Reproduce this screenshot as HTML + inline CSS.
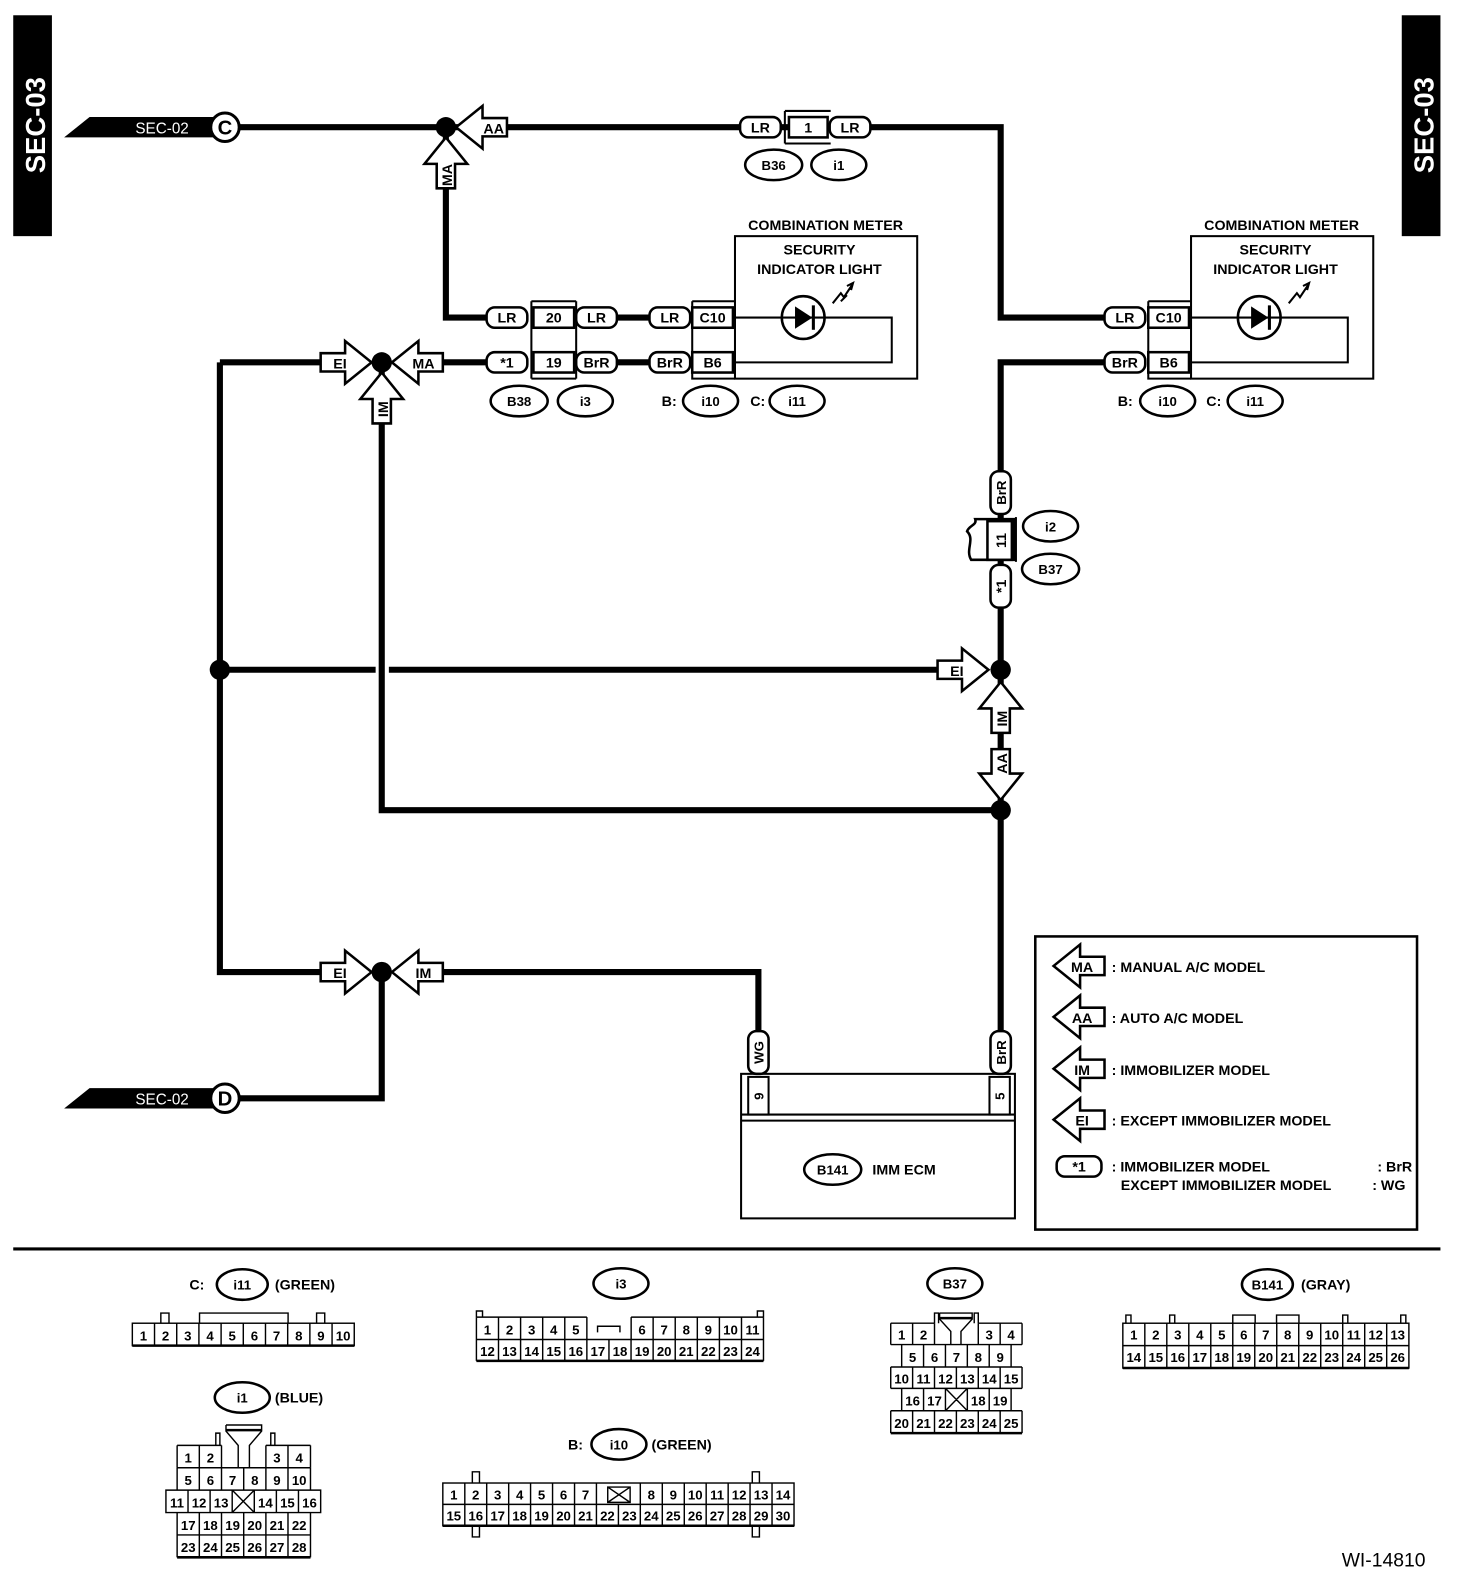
<!DOCTYPE html>
<html><head><meta charset="utf-8"><style>
html,body{margin:0;padding:0;background:#fff;}
svg{display:block;}
text{font-family:"Liberation Sans",Arial,sans-serif;font-weight:bold;fill:#000;}
.w{stroke:#000;stroke-width:6;fill:none;}
.t{stroke:#000;stroke-width:2;fill:none;}
.p{stroke:#000;stroke-width:2.5;fill:#fff;}
.g{stroke:#000;stroke-width:1.4;fill:none;}
.c{font-weight:normal;font-size:13px;text-anchor:middle;}
.m{text-anchor:middle;}
</style></head><body>
<svg width="1472" height="1596" viewBox="0 0 1446 1568" preserveAspectRatio="none" xmlns="http://www.w3.org/2000/svg">
<defs>
<polygon id="arw" points="0,0 26,-21 26,-9 50,-9 50,9 26,9 26,21" fill="#fff" stroke="#000" stroke-width="2.5"/>
</defs>
<rect x="13" y="15" width="38" height="217" fill="#000"/>
<rect x="1377" y="15" width="38" height="217" fill="#000"/>
<text transform="translate(44,123) rotate(-90)" font-size="27" style="fill:#fff" text-anchor="middle">SEC-03</text>
<text transform="translate(1408,123) rotate(-90)" font-size="27" style="fill:#fff" text-anchor="middle">SEC-03</text>

<path class="w" d="M221 125 H983 V312 H1090"/>
<path class="w" d="M438 125 V312 H480"/>
<path class="w" d="M606 312 H640 M606 356 H640"/>
<path class="w" d="M1090 356 H983 V1015"/>
<path class="w" d="M216 356 H322 M216 356 V955 H322"/>
<path class="w" d="M430 356 H480"/>
<path class="w" d="M375 356 V796 H983"/>
<path class="w" d="M216 658 H369 M382 658 H930"/>
<path class="w" d="M430 955 H745 V1015"/>
<path class="w" d="M375 955 V1079 H221"/>

<polygon points="63,135 88,115 210,115 210,135" fill="#000"/>
<text x="133" y="131" font-size="15" style="fill:#fff;font-weight:normal">SEC-02</text>
<circle cx="221" cy="125" r="14" fill="#fff" stroke="#000" stroke-width="3"/>
<text x="221" y="132" font-size="20" class="m">C</text>
<polygon points="63,1089 88,1069 210,1069 210,1089" fill="#000"/>
<text x="133" y="1085" font-size="15" style="fill:#fff;font-weight:normal">SEC-02</text>
<circle cx="221" cy="1079" r="14" fill="#fff" stroke="#000" stroke-width="3"/>
<text x="221" y="1086" font-size="20" class="m">D</text>

<g fill="#000"><circle cx="438" cy="125" r="10"/><circle cx="375" cy="356" r="10"/><circle cx="216" cy="658" r="10"/><circle cx="983" cy="658" r="10"/><circle cx="983" cy="796" r="10"/><circle cx="375" cy="955" r="10"/></g>

<use href="#arw" transform="translate(448,125)"/><text x="485" y="131" font-size="14" class="m">AA</text>
<use href="#arw" transform="translate(438,135) rotate(90)"/><text transform="translate(444,172) rotate(-90)" font-size="14" class="m">MA</text>
<use href="#arw" transform="translate(365,356) rotate(180)"/><text x="334" y="362" font-size="14" class="m">EI</text>
<use href="#arw" transform="translate(385,356)"/><text x="416" y="362" font-size="14" class="m">MA</text>
<use href="#arw" transform="translate(375,366) rotate(90)"/><text transform="translate(381,402) rotate(-90)" font-size="14" class="m">IM</text>
<use href="#arw" transform="translate(971,658) rotate(180)"/><text x="940" y="664" font-size="14" class="m">EI</text>
<use href="#arw" transform="translate(983,670) rotate(90)"/><text transform="translate(989,706) rotate(-90)" font-size="14" class="m">IM</text>
<use href="#arw" transform="translate(983,786) rotate(-90)"/><text transform="translate(989,750) rotate(-90)" font-size="14" class="m">AA</text>
<use href="#arw" transform="translate(365,955) rotate(180)"/><text x="334" y="961" font-size="14" class="m">EI</text>
<use href="#arw" transform="translate(385,955)"/><text x="416" y="961" font-size="14" class="m">IM</text>

<rect class="p" x="727" y="115" width="40" height="20" rx="8"/><text x="747" y="130" font-size="14" class="m">LR</text>
<path class="t" d="M771 109 H816 M771 141 H816 M771 109 V141"/>
<rect class="p" x="775" y="115" width="38" height="20"/><text x="794" y="130" font-size="14" class="m">1</text>
<rect class="p" x="815" y="115" width="40" height="20" rx="8"/><text x="835" y="130" font-size="14" class="m">LR</text>
<ellipse class="p" cx="760" cy="162" rx="28" ry="15"/><text x="760" y="167" font-size="13" class="m">B36</text>
<ellipse class="p" cx="824" cy="162" rx="27" ry="15"/><text x="824" y="167" font-size="13" class="m">i1</text>

<rect class="p" x="478" y="302" width="40" height="20" rx="8"/><text x="498" y="317" font-size="14" class="m">LR</text>
<rect class="p" x="478" y="346" width="40" height="20" rx="8"/><text x="498" y="361" font-size="14" class="m">*1</text>
<path class="t" d="M522 296 H566 M522 372 H566 M522 296 V372 M566 296 V372"/>
<rect class="p" x="524" y="302" width="40" height="20"/><text x="544" y="317" font-size="14" class="m">20</text>
<rect class="p" x="524" y="346" width="40" height="20"/><text x="544" y="361" font-size="14" class="m">19</text>
<rect class="p" x="566" y="302" width="40" height="20" rx="8"/><text x="586" y="317" font-size="14" class="m">LR</text>
<rect class="p" x="566" y="346" width="40" height="20" rx="8"/><text x="586" y="361" font-size="14" class="m">BrR</text>
<rect class="p" x="638" y="302" width="40" height="20" rx="8"/><text x="658" y="317" font-size="14" class="m">LR</text>
<rect class="p" x="638" y="346" width="40" height="20" rx="8"/><text x="658" y="361" font-size="14" class="m">BrR</text>
<path class="t" d="M680 296 H722 M680 296 V372 H722"/>
<rect class="p" x="680" y="302" width="40" height="20"/><text x="700" y="317" font-size="14" class="m">C10</text>
<rect class="p" x="680" y="346" width="40" height="20"/><text x="700" y="361" font-size="14" class="m">B6</text>
<ellipse class="p" cx="510" cy="394" rx="28" ry="15"/><text x="510" y="399" font-size="13" class="m">B38</text>
<ellipse class="p" cx="575" cy="394" rx="27" ry="15"/><text x="575" y="399" font-size="13" class="m">i3</text>
<text x="650" y="399" font-size="14">B:</text>
<ellipse class="p" cx="698" cy="394" rx="27" ry="15"/><text x="698" y="399" font-size="13" class="m">i10</text>
<text x="737" y="399" font-size="14">C:</text>
<ellipse class="p" cx="783" cy="394" rx="27" ry="15"/><text x="783" y="399" font-size="13" class="m">i11</text>

<text x="811" y="226" font-size="14" class="m">COMBINATION METER</text>
<rect class="t" x="722" y="232" width="179" height="140"/>
<text x="805" y="250" font-size="14" class="m">SECURITY</text>
<text x="805" y="269" font-size="14" class="m">INDICATOR LIGHT</text>
<path class="t" d="M722 312 H876 V356 H722"/>
<circle cx="789" cy="312" r="21" fill="#fff" stroke="#000" stroke-width="2.5"/>
<path class="t" d="M768 312 H810"/>
<polygon points="781,301 781,323 798,312" fill="#000"/><path d="M799 300 V324" stroke="#000" stroke-width="3"/>
<path class="t" d="M818 298 L826 288 L829 292 L837 280 M832 281 L838 278 L836 285 M826 296 L832 290"/>

<text x="1259" y="226" font-size="14" class="m">COMBINATION METER</text>
<rect class="t" x="1170" y="232" width="179" height="140"/>
<text x="1253" y="250" font-size="14" class="m">SECURITY</text>
<text x="1253" y="269" font-size="14" class="m">INDICATOR LIGHT</text>
<path class="t" d="M1170 312 H1324 V356 H1170"/>
<circle cx="1237" cy="312" r="21" fill="#fff" stroke="#000" stroke-width="2.5"/>
<path class="t" d="M1216 312 H1258"/>
<polygon points="1229,301 1229,323 1246,312" fill="#000"/><path d="M1247 300 V324" stroke="#000" stroke-width="3"/>
<path class="t" d="M1266 298 L1274 288 L1277 292 L1285 280 M1280 281 L1286 278 L1284 285"/>
<path class="t" d="M1128 296 H1170 M1128 296 V372 H1170"/>
<rect class="p" x="1085" y="302" width="40" height="20" rx="8"/><text x="1105" y="317" font-size="14" class="m">LR</text>
<rect class="p" x="1085" y="346" width="40" height="20" rx="8"/><text x="1105" y="361" font-size="14" class="m">BrR</text>
<rect class="p" x="1128" y="302" width="40" height="20"/><text x="1148" y="317" font-size="14" class="m">C10</text>
<rect class="p" x="1128" y="346" width="40" height="20"/><text x="1148" y="361" font-size="14" class="m">B6</text>
<text x="1098" y="399" font-size="14">B:</text>
<ellipse class="p" cx="1147" cy="394" rx="27" ry="15"/><text x="1147" y="399" font-size="13" class="m">i10</text>
<text x="1185" y="399" font-size="14">C:</text>
<ellipse class="p" cx="1233" cy="394" rx="27" ry="15"/><text x="1233" y="399" font-size="13" class="m">i11</text>

<rect class="p" x="973" y="463" width="20" height="42" rx="8"/><text transform="translate(988,484) rotate(-90)" font-size="13" class="m">BrR</text>
<path class="p" d="M958 510 H996 V550 H954 C948 540 958 530 950 522 C952 516 960 516 958 510 Z"/>
<rect class="p" x="970" y="512" width="24" height="38"/><text transform="translate(988,531) rotate(-90)" font-size="14" class="m">11</text>
<path class="t" d="M998 508 V552"/>
<rect class="p" x="973" y="555" width="20" height="42" rx="8"/><text transform="translate(988,576) rotate(-90)" font-size="14" class="m">*1</text>
<ellipse class="p" cx="1032" cy="517" rx="27" ry="15"/><text x="1032" y="522" font-size="13" class="m">i2</text>
<ellipse class="p" cx="1032" cy="559" rx="28" ry="15"/><text x="1032" y="564" font-size="13" class="m">B37</text>

<rect class="p" x="735" y="1013" width="20" height="42" rx="8"/><text transform="translate(750,1034) rotate(-90)" font-size="13" class="m">WG</text>
<rect class="p" x="973" y="1013" width="20" height="42" rx="8"/><text transform="translate(988,1034) rotate(-90)" font-size="13" class="m">BrR</text>
<rect class="t" x="728" y="1055" width="269" height="142"/>
<path class="t" d="M728 1095 H997 M728 1101 H997"/>
<rect class="t" x="735" y="1058" width="20" height="37"/><text transform="translate(750,1077) rotate(-90)" font-size="13" class="m">9</text>
<rect class="t" x="972" y="1058" width="20" height="37"/><text transform="translate(987,1077) rotate(-90)" font-size="13" class="m">5</text>
<ellipse class="p" cx="818" cy="1149" rx="28" ry="15"/><text x="818" y="1154" font-size="13" class="m">B141</text>
<text x="857" y="1154" font-size="14">IMM ECM</text>

<rect x="1017" y="920" width="375" height="288" fill="none" stroke="#000" stroke-width="2.5"/>
<use href="#arw" transform="translate(1035,949)"/><text x="1063" y="955" font-size="14" class="m">MA</text><text x="1092" y="955" font-size="14">: MANUAL A/C MODEL</text>
<use href="#arw" transform="translate(1035,999)"/><text x="1063" y="1005" font-size="14" class="m">AA</text><text x="1092" y="1005" font-size="14">: AUTO A/C MODEL</text>
<use href="#arw" transform="translate(1035,1050)"/><text x="1063" y="1056" font-size="14" class="m">IM</text><text x="1092" y="1056" font-size="14">: IMMOBILIZER MODEL</text>
<use href="#arw" transform="translate(1035,1100)"/><text x="1063" y="1106" font-size="14" class="m">EI</text><text x="1092" y="1106" font-size="14">: EXCEPT IMMOBILIZER MODEL</text>
<rect class="p" x="1038" y="1136" width="44" height="20" rx="8"/><text x="1060" y="1151" font-size="14" class="m">*1</text>
<text x="1092" y="1151" font-size="14">: IMMOBILIZER MODEL</text><text x="1353" y="1151" font-size="14">: BrR</text>
<text x="1101" y="1169" font-size="14">EXCEPT IMMOBILIZER MODEL</text><text x="1348" y="1169" font-size="14">: WG</text>

<path d="M13 1227 H1415" stroke="#000" stroke-width="3"/>

<text x="186" y="1267" font-size="14">C:</text>
<ellipse class="p" cx="238" cy="1262" rx="25" ry="15"/><text x="238" y="1267" font-size="13" class="m">i11</text>
<text x="270" y="1267" font-size="14">(GREEN)</text>
<path class="g" d="M158 1300 V1290 H166 V1300 M196 1300 V1290 H283 V1300 M311 1300 V1290 H319 V1300"/>
<rect class="g" x="130" y="1300" width="218" height="22"/>
<path class="g" d="M151.8 1300V1322M173.6 1300V1322M195.4 1300V1322M217.2 1300V1322M239 1300V1322M260.8 1300V1322M282.6 1300V1322M304.4 1300V1322M326.2 1300V1322"/>
<path d="M130 1322 H348" stroke="#000" stroke-width="2.5"/>
<g class="c"><text x="140.9" y="1317">1</text><text x="162.7" y="1317">2</text><text x="184.5" y="1317">3</text><text x="206.3" y="1317">4</text><text x="228.1" y="1317">5</text><text x="249.9" y="1317">6</text><text x="271.7" y="1317">7</text><text x="293.5" y="1317">8</text><text x="315.3" y="1317">9</text><text x="337.1" y="1317">10</text></g>

<ellipse class="p" cx="610" cy="1261" rx="27" ry="15"/><text x="610" y="1266" font-size="13" class="m">i3</text>
<path class="g" d="M468 1294 V1288 H474 V1294 M744 1294 V1288 H750 V1294 M576.5 1294 V1316 M620 1294 V1316 M587 1309 V1303 H609 V1309"/>
<path class="g" d="M468 1294 H576.5 M620 1294 H750 M750 1294 V1337 M468 1337 H750 M468 1294 V1337 M468 1316 H750"/>
<path class="g" d="M489.7 1294V1337M511.4 1294V1337M533.1 1294V1337M554.8 1294V1337M576.5 1316V1337M598.2 1316V1337M619.9 1316V1337M641.6 1294V1337M663.3 1294V1337M685 1294V1337M706.7 1294V1337M728.4 1294V1337"/>
<path d="M468 1337 H750" stroke="#000" stroke-width="2.5"/>
<g class="c"><text x="478.85" y="1311">1</text><text x="500.55" y="1311">2</text><text x="522.25" y="1311">3</text><text x="543.95" y="1311">4</text><text x="565.65" y="1311">5</text><text x="630.75" y="1311">6</text><text x="652.45" y="1311">7</text><text x="674.15" y="1311">8</text><text x="695.85" y="1311">9</text><text x="717.55" y="1311">10</text><text x="739.25" y="1311">11</text>
<text x="478.85" y="1332">12</text><text x="500.55" y="1332">13</text><text x="522.25" y="1332">14</text><text x="543.95" y="1332">15</text><text x="565.65" y="1332">16</text><text x="587.35" y="1332">17</text><text x="609.05" y="1332">18</text><text x="630.75" y="1332">19</text><text x="652.45" y="1332">20</text><text x="674.15" y="1332">21</text><text x="695.85" y="1332">22</text><text x="717.55" y="1332">23</text><text x="739.25" y="1332">24</text></g>

<ellipse class="p" cx="938" cy="1261" rx="27" ry="15"/><text x="938" y="1266" font-size="13" class="m">B37</text>
<path class="g" d="M918 1300 V1290 H922 V1300 M957 1300 V1290 H961 V1300 M923 1290 H955 V1296 L944 1308 V1321 M923 1290 V1296 L934 1308 V1321"/>
<path d="M923 1295 H955" stroke="#000" stroke-width="2.5"/>
<path class="g" d="M875 1300 H918 M961 1300 H1004 M875 1300 V1321 M918 1300 V1321 M961 1300 V1321 M1004 1300 V1321 M896.5 1300 V1321 M982.5 1300 V1321 M875 1321 H1004"/>
<path class="g" d="M885.75 1321 V1343 M993.25 1321 V1343 M907.25 1321V1343 M928.75 1321V1343 M950.25 1321V1343 M971.75 1321V1343 M875 1343 H1004 M875 1343 V1364 M1004 1343 V1364 M896.5 1343V1364 M918 1343V1364 M939.5 1343V1364 M961 1343V1364 M982.5 1343V1364 M875 1364 H1004 M885.75 1364 V1386 M993.25 1364 V1386 M907.25 1364V1386 M928.75 1364V1386 M950.25 1364V1386 M971.75 1364V1386 M928.75 1364 L950.25 1386 M950.25 1364 L928.75 1386 M875 1386 H1004 M875 1386 V1408 M1004 1386 V1408 M896.5 1386V1408 M918 1386V1408 M939.5 1386V1408 M961 1386V1408 M982.5 1386V1408"/>
<path d="M875 1408 H1004" stroke="#000" stroke-width="2.5"/>
<g class="c"><text x="885.75" y="1316">1</text><text x="907.25" y="1316">2</text><text x="971.75" y="1316">3</text><text x="993.25" y="1316">4</text>
<text x="896.5" y="1338">5</text><text x="918" y="1338">6</text><text x="939.5" y="1338">7</text><text x="961" y="1338">8</text><text x="982.5" y="1338">9</text>
<text x="885.75" y="1359">10</text><text x="907.25" y="1359">11</text><text x="928.75" y="1359">12</text><text x="950.25" y="1359">13</text><text x="971.75" y="1359">14</text><text x="993.25" y="1359">15</text>
<text x="896.5" y="1381">16</text><text x="918" y="1381">17</text><text x="961" y="1381">18</text><text x="982.5" y="1381">19</text>
<text x="885.75" y="1403">20</text><text x="907.25" y="1403">21</text><text x="928.75" y="1403">22</text><text x="950.25" y="1403">23</text><text x="971.75" y="1403">24</text><text x="993.25" y="1403">25</text></g>

<ellipse class="p" cx="1245" cy="1262" rx="25" ry="15"/><text x="1245" y="1267" font-size="13" class="m">B141</text>
<text x="1278" y="1267" font-size="14">(GRAY)</text>
<path class="g" d="M1106 1300 V1292 H1111 V1300 M1149 1300 V1292 H1154 V1300 M1211 1300 V1292 H1233 V1300 M1254 1300 V1292 H1276 V1300 M1319 1300 V1292 H1324 V1300 M1376 1300 V1292 H1381 V1300"/>
<rect class="g" x="1103" y="1300" width="281" height="44"/>
<path class="g" d="M1103 1322 H1384 M1124.6 1300V1344M1146.2 1300V1344M1167.8 1300V1344M1189.4 1300V1344M1211 1300V1344M1232.6 1300V1344M1254.2 1300V1344M1275.8 1300V1344M1297.4 1300V1344M1319 1300V1344M1340.6 1300V1344M1362.2 1300V1344"/>
<path d="M1103 1344 H1384" stroke="#000" stroke-width="2.5"/>
<g class="c"><text x="1113.8" y="1316">1</text><text x="1135.4" y="1316">2</text><text x="1157" y="1316">3</text><text x="1178.6" y="1316">4</text><text x="1200.2" y="1316">5</text><text x="1221.8" y="1316">6</text><text x="1243.4" y="1316">7</text><text x="1265" y="1316">8</text><text x="1286.6" y="1316">9</text><text x="1308.2" y="1316">10</text><text x="1329.8" y="1316">11</text><text x="1351.4" y="1316">12</text><text x="1373" y="1316">13</text>
<text x="1113.8" y="1338">14</text><text x="1135.4" y="1338">15</text><text x="1157" y="1338">16</text><text x="1178.6" y="1338">17</text><text x="1200.2" y="1338">18</text><text x="1221.8" y="1338">19</text><text x="1243.4" y="1338">20</text><text x="1265" y="1338">21</text><text x="1286.6" y="1338">22</text><text x="1308.2" y="1338">23</text><text x="1329.8" y="1338">24</text><text x="1351.4" y="1338">25</text><text x="1373" y="1338">26</text></g>

<ellipse class="p" cx="238" cy="1373" rx="27" ry="15"/><text x="238" y="1378" font-size="13" class="m">i1</text>
<text x="270" y="1378" font-size="14">(BLUE)</text>
<path class="g" d="M212 1420 V1408 H216 V1420 M266 1420 V1408 H270 V1420 M222 1400 H257 V1406 L245 1420 V1442 M222 1400 V1406 L234 1420 V1442"/>
<path d="M222 1405 H257" stroke="#000" stroke-width="2.5"/>
<path class="g" d="M174 1420 H217.6 M261.2 1420 H305 M174 1420 V1442 M195.8 1420 V1442 M217.6 1420 V1442 M261.2 1420 V1442 M282.9 1420 V1442 M305 1420 V1442 M174 1442 H305"/>
<path class="g" d="M174 1442 V1464 M305 1442 V1464 M195.8 1442V1464 M217.6 1442V1464 M239.4 1442V1464 M261.2 1442V1464 M282.9 1442V1464 M163 1464 H315 V1486 H163 Z M184.7 1464V1486 M206.4 1464V1486 M228.1 1464V1486 M249.8 1464V1486 M271.5 1464V1486 M293.2 1464V1486 M228.1 1464 L249.8 1486 M249.8 1464 L228.1 1486"/>
<path class="g" d="M174 1486 V1530 M305 1486 V1530 M174 1508 H305 M195.8 1486V1530 M217.6 1486V1530 M239.4 1486V1530 M261.2 1486V1530 M282.9 1486V1530"/>
<path d="M174 1530 H305" stroke="#000" stroke-width="2.5"/>
<g class="c"><text x="184.9" y="1437">1</text><text x="206.7" y="1437">2</text><text x="272.1" y="1437">3</text><text x="293.9" y="1437">4</text>
<text x="184.9" y="1459">5</text><text x="206.7" y="1459">6</text><text x="228.5" y="1459">7</text><text x="250.3" y="1459">8</text><text x="272.1" y="1459">9</text><text x="293.9" y="1459">10</text>
<text x="173.85" y="1481">11</text><text x="195.55" y="1481">12</text><text x="217.25" y="1481">13</text><text x="260.65" y="1481">14</text><text x="282.35" y="1481">15</text><text x="304.05" y="1481">16</text>
<text x="184.9" y="1503">17</text><text x="206.7" y="1503">18</text><text x="228.5" y="1503">19</text><text x="250.3" y="1503">20</text><text x="272.1" y="1503">21</text><text x="293.9" y="1503">22</text>
<text x="184.9" y="1525">23</text><text x="206.7" y="1525">24</text><text x="228.5" y="1525">25</text><text x="250.3" y="1525">26</text><text x="272.1" y="1525">27</text><text x="293.9" y="1525">28</text></g>

<text x="558" y="1424" font-size="14">B:</text>
<ellipse class="p" cx="608" cy="1419" rx="27" ry="15"/><text x="608" y="1424" font-size="13" class="m">i10</text>
<text x="640" y="1424" font-size="14">(GREEN)</text>
<rect class="g" x="435" y="1457" width="345" height="42"/>
<path class="g" d="M464 1457 V1446 H471 V1457 M464 1499 V1510 H471 V1499 M739 1457 V1446 H746 V1457 M739 1499 V1510 H746 V1499"/>
<path class="g" d="M435 1478 H780 M456.6 1457V1499M478.1 1457V1499M499.7 1457V1499M521.2 1457V1499M542.8 1457V1499M564.4 1457V1499M585.9 1457V1499M607.5 1478V1499M629 1457V1499M650.6 1457V1499M672.2 1457V1499M693.7 1457V1499M715.3 1457V1499M736.8 1457V1499M758.4 1457V1499 M597 1461 L619 1476 M619 1461 L597 1476 M597 1461 H619 V1476 H597 Z"/>
<path d="M435 1499 H780" stroke="#000" stroke-width="2.5"/>
<g class="c"><text x="445.8" y="1473">1</text><text x="467.3" y="1473">2</text><text x="488.9" y="1473">3</text><text x="510.5" y="1473">4</text><text x="532" y="1473">5</text><text x="553.6" y="1473">6</text><text x="575.2" y="1473">7</text><text x="639.8" y="1473">8</text><text x="661.4" y="1473">9</text><text x="683" y="1473">10</text><text x="704.5" y="1473">11</text><text x="726.1" y="1473">12</text><text x="747.7" y="1473">13</text><text x="769.2" y="1473">14</text>
<text x="445.8" y="1494">15</text><text x="467.3" y="1494">16</text><text x="488.9" y="1494">17</text><text x="510.5" y="1494">18</text><text x="532" y="1494">19</text><text x="553.6" y="1494">20</text><text x="575.2" y="1494">21</text><text x="596.7" y="1494">22</text><text x="618.3" y="1494">23</text><text x="639.8" y="1494">24</text><text x="661.4" y="1494">25</text><text x="683" y="1494">26</text><text x="704.5" y="1494">27</text><text x="726.1" y="1494">28</text><text x="747.7" y="1494">29</text><text x="769.2" y="1494">30</text></g>

<text x="1318" y="1539" font-size="19" style="font-weight:normal">WI-14810</text>
</svg>
</body></html>
